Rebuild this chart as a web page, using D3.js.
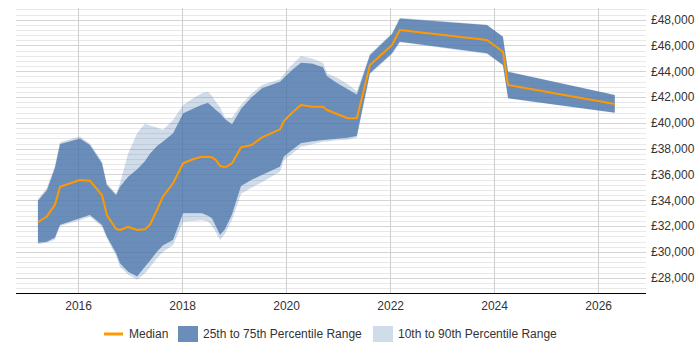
<!DOCTYPE html>
<html>
<head>
<meta charset="utf-8">
<script src="https://cdn.jsdelivr.net/npm/d3@7"></script>
<style>
  html, body { margin: 0; padding: 0; background: #fff; }
  svg { display: block; font-family: "Liberation Sans", Arial, sans-serif; }
</style>
</head>
<body>
<svg id="chart" width="700" height="350"></svg>
<script>
// ---- Data ----
const dates = [
  "2015-03-25","2015-05-27","2015-07-22","2015-08-27","2016-01-14","2016-03-24",
  "2016-06-17","2016-07-21","2016-09-24","2016-10-21","2016-12-17","2017-02-19",
  "2017-04-15","2017-05-19","2017-07-08","2017-08-19","2017-10-29","2018-01-08",
  "2018-03-17","2018-05-19","2018-07-01","2018-07-29","2018-08-27","2018-09-24",
  "2018-10-29","2018-12-17","2019-02-19","2019-05-05","2019-07-15","2019-11-19",
  "2019-12-17","2020-02-12","2020-04-14","2020-07-01","2020-09-17","2020-10-14",
  "2020-12-24","2021-03-10","2021-05-12","2021-08-12","2022-01-14","2022-03-10",
  "2023-11-12","2024-03-03","2024-04-08","2026-04-28"
];
const p10 = [
  30600,30700,30950,32000,32450,32750,31950,31050,29700,28850,28250,27850,
  28340,28800,29500,30000,30540,32340,32400,32450,32350,32000,31500,30920,
  31400,32500,34500,35000,35400,36220,37120,37600,38160,38350,38540,38560,
  38650,38700,38850,43800,45300,46250,45350,44450,41900,40790
];
const p25 = [
  30710,30790,31100,32090,32600,32860,32090,31180,29890,29120,28470,28100,
  28850,29300,30010,30500,30920,32990,32990,32990,32800,32600,31950,31310,
  31750,32900,35100,35600,35960,36610,37400,37900,38420,38550,38670,38700,
  38780,38850,38980,43850,45400,46290,45390,44490,41910,40790
];
const p50 = [
  32300,32750,33640,35050,35570,35520,34410,32860,31775,31700,31950,31700,
  31750,32085,33250,34280,35320,36870,37180,37380,37350,37330,37120,36660,
  36560,36870,38110,38290,38880,39500,40150,40790,41390,41260,41260,41000,
  40690,40360,40360,44490,46040,47200,46430,45520,42940,41460
];
const p75 = [
  33970,34800,36500,38360,38800,38290,36870,35190,34410,35050,35830,36400,
  37050,37600,38200,38550,39190,40740,41100,41400,41570,41300,41000,40740,
  40300,39900,41100,42000,42680,43190,43500,44100,44670,44600,44310,43630,
  43100,42600,42200,45260,46900,48100,47590,46680,43970,42160
];
const p90 = [
  34100,34950,36650,38500,38950,38400,37000,35300,34540,35300,37600,39200,
  39950,39800,39650,39450,40220,41380,41900,42300,42410,42100,41600,41240,
  40400,40400,41400,42300,42940,43380,43800,44500,45190,45000,44670,43850,
  43500,43000,42450,45350,46950,48150,47600,46700,43990,42170
];
const xTickYears = [2016, 2018, 2020, 2022, 2024, 2026];
const yMajorTicks = [28000,30000,32000,34000,36000,38000,40000,42000,44000,46000,48000];
const legendLabels = ["Median", "25th to 75th Percentile Range", "10th to 90th Percentile Range"];

// ---- Build records ----
const parse = d3.timeParse("%Y-%m-%d");
const rows = dates.map((d, i) => ({
  date: parse(d), p10: p10[i], p25: p25[i], p50: p50[i], p75: p75[i], p90: p90[i]
}));

// ---- Layout ----
const svg = d3.select("#chart");
const plot = { left: 16, right: 646, top: 8, bottom: 293 };

const x = d3.scaleTime()
  .domain([new Date(2014, 9, 22), new Date(2026, 11, 3)])
  .range([plot.left, plot.right]);
const y = d3.scaleLinear()
  .domain([28000, 48000])
  .range([277.7, 19.7]);

// minor gridlines
const minor = d3.range(26800, 49201, 400).filter(v => v % 2000 !== 0)
  .filter(v => y(v) >= plot.top && y(v) <= plot.bottom - 1);
svg.append("g").selectAll("line").data(minor).join("line")
  .attr("x1", plot.left).attr("x2", plot.right)
  .attr("y1", d => Math.round(y(d)) + 0.5).attr("y2", d => Math.round(y(d)) + 0.5)
  .attr("stroke", "#e8e8e8").attr("stroke-width", 1);

// major gridlines
svg.append("g").selectAll("line").data(yMajorTicks).join("line")
  .attr("x1", plot.left).attr("x2", plot.right)
  .attr("y1", d => Math.round(y(d)) + 0.5).attr("y2", d => Math.round(y(d)) + 0.5)
  .attr("stroke", "#d4d4d4").attr("stroke-width", 1);

// vertical gridlines
svg.append("g").selectAll("line").data(xTickYears).join("line")
  .attr("x1", d => Math.round(x(new Date(d, 0, 1))) + 0.5)
  .attr("x2", d => Math.round(x(new Date(d, 0, 1))) + 0.5)
  .attr("y1", plot.top).attr("y2", plot.bottom)
  .attr("stroke", "#cfcfcf").attr("stroke-width", 1);

// ---- Bands ----
const bandColor = "#4572A7";
const areaUpperLight = d3.area().x(d => x(d.date)).y0(d => y(d.p75)).y1(d => y(d.p90));
const areaLowerLight = d3.area().x(d => x(d.date)).y0(d => y(d.p10)).y1(d => y(d.p25));
const areaDark = d3.area().x(d => x(d.date)).y0(d => y(d.p25)).y1(d => y(d.p75));

svg.append("path").datum(rows).attr("d", areaUpperLight)
  .attr("fill", bandColor).attr("fill-opacity", 0.25);
svg.append("path").datum(rows).attr("d", areaLowerLight)
  .attr("fill", bandColor).attr("fill-opacity", 0.25);
svg.append("path").datum(rows).attr("d", areaDark)
  .attr("fill", bandColor).attr("fill-opacity", 0.8);

// median
const line = d3.line().x(d => x(d.date)).y(d => y(d.p50));
svg.append("path").datum(rows).attr("d", line)
  .attr("fill", "none").attr("stroke", "#FF9900").attr("stroke-width", 2)
  .attr("stroke-linejoin", "round");

// ---- Axes ----
const xAxis = d3.axisBottom(x)
  .tickValues(xTickYears.map(yv => new Date(yv, 0, 1)))
  .tickFormat(d3.timeFormat("%Y"))
  .tickSize(0).tickPadding(8);
const gx = svg.append("g").attr("transform", `translate(0,${plot.bottom})`).call(xAxis);
gx.select(".domain").remove();
gx.selectAll("text").attr("font-size", 12).attr("fill", "#333")
  .attr("font-family", "Liberation Sans, Arial, sans-serif");
svg.append("line").attr("x1", plot.left).attr("x2", plot.right)
  .attr("y1", plot.bottom + 0.5).attr("y2", plot.bottom + 0.5)
  .attr("stroke", "#000").attr("stroke-width", 1);

const yAxis = d3.axisRight(y)
  .tickValues(yMajorTicks)
  .tickFormat(d => "£" + d3.format(",")(d))
  .tickSize(0).tickPadding(5);
const gy = svg.append("g").attr("transform", `translate(${plot.right},0)`).call(yAxis);
gy.select(".domain").remove();
gy.selectAll("text").attr("font-size", 12).attr("fill", "#333")
  .attr("font-family", "Liberation Sans, Arial, sans-serif");

// ---- Legend ----
const lg = svg.append("g").attr("font-size", 12).attr("fill", "#333");
const ly = 334;
lg.append("line").attr("x1", 104).attr("x2", 123).attr("y1", ly).attr("y2", ly)
  .attr("stroke", "#FF9900").attr("stroke-width", 3);
lg.append("text").attr("x", 129).attr("y", ly).attr("dy", "0.35em").text(legendLabels[0]);
lg.append("rect").attr("x", 178).attr("y", ly - 8).attr("width", 20).attr("height", 16)
  .attr("fill", bandColor).attr("fill-opacity", 0.8);
lg.append("text").attr("x", 203).attr("y", ly).attr("dy", "0.35em").text(legendLabels[1]);
lg.append("rect").attr("x", 373).attr("y", ly - 8).attr("width", 20).attr("height", 16)
  .attr("fill", bandColor).attr("fill-opacity", 0.25);
lg.append("text").attr("x", 398).attr("y", ly).attr("dy", "0.35em").text(legendLabels[2]);
</script>
</body>
</html>
